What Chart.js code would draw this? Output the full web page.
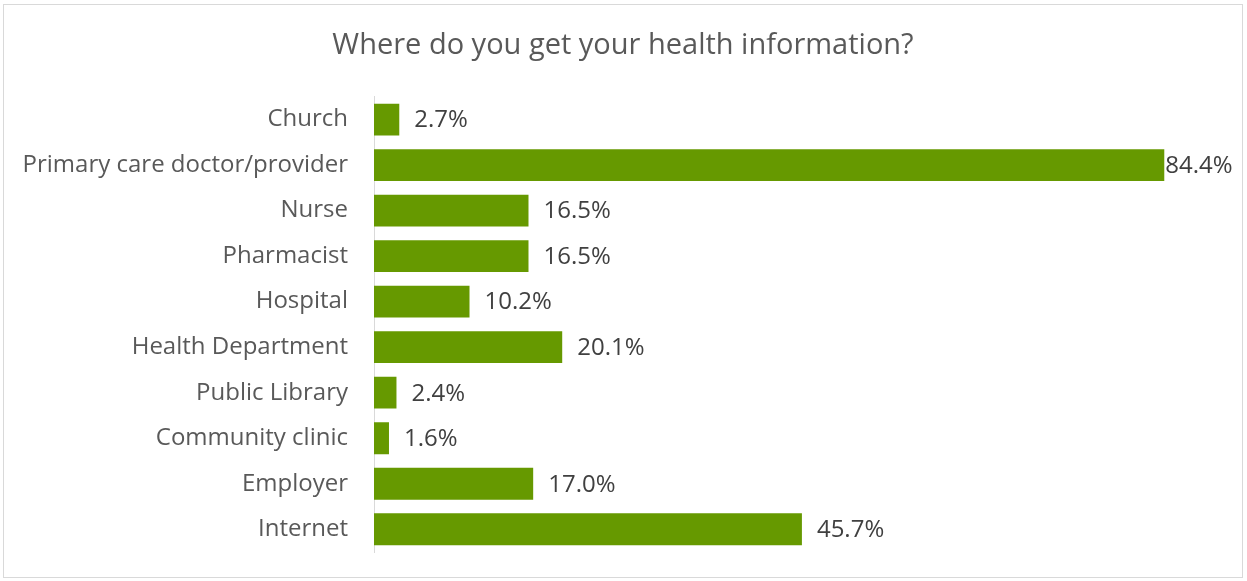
<!DOCTYPE html>
<html>
<head>
<meta charset="utf-8">
<script src="https://cdn.jsdelivr.net/npm/chart.js@4.4.0/dist/chart.umd.min.js"></script>
<style>
  html, body { margin: 0; padding: 0; background: #ffffff; }
  #wrap {
    position: absolute; left: 3px; top: 4px;
    width: 1238px; height: 572px;
    border: 1px solid #d9d9d9;
  }
</style>
</head>
<body>
<div id="wrap"><canvas id="healthChart" width="1238" height="572"></canvas></div>
<script>
"use strict";

/* survey answers, top to bottom */
var sources = ["Church", "Primary care doctor/provider", "Nurse", "Pharmacist", "Hospital",
               "Health Department", "Public Library", "Community clinic", "Employer", "Internet"];
var percents = [2.7, 84.4, 16.5, 16.5, 10.2, 20.1, 2.4, 1.6, 17.0, 45.7];

var fontFamily = "'Open Sans', 'Noto Sans', sans-serif";

/* value labels at the end of each bar, pulled back in if they would run off the edge */
var barValueLabels = {
    id: "barValueLabels",
    afterDatasetsDraw: function (chart) {
        var ctx = chart.ctx;
        var meta = chart.getDatasetMeta(0);
        ctx.save();
        ctx.font = "24px " + fontFamily;
        ctx.fillStyle = "#404040";
        ctx.textBaseline = "middle";
        ctx.textAlign = "left";
        meta.data.forEach(function (bar, i) {
            var txt = percents[i].toFixed(1) + "%";
            var w = ctx.measureText(txt).width;
            var x = bar.x + 15;
            if (x + w > chart.width - 4) {
                x = bar.x + 1;
            }
            ctx.fillText(txt, x, bar.y + 1);
        });
        ctx.restore();
    }
};

var ctx = document.getElementById("healthChart");
var chart = new Chart(ctx, {
    type: "bar",
    data: {
        labels: sources,
        datasets: [{
            data: percents,
            backgroundColor: "#669900",
            borderWidth: 0,
            categoryPercentage: 0.7,
            barPercentage: 1.0
        }]
    },
    options: {
        indexAxis: "y",
        responsive: false,
        animation: false,
        layout: { padding: { left: 0, right: 0, top: 0, bottom: 25 } },
        plugins: {
            legend: { display: false },
            tooltip: { enabled: false },
            title: {
                display: true,
                text: "Where do you get your health information?",
                color: "#595959",
                font: { family: fontFamily, size: 29, weight: "normal" },
                padding: { top: 23, bottom: 34 }
            }
        },
        scales: {
            x: {
                display: false,
                min: 0,
                max: 92.7
            },
            y: {
                grid: { display: false, drawTicks: false },
                border: { display: true, color: "#d9d9d9", width: 1 },
                ticks: {
                    color: "#595959",
                    padding: 26,
                    font: { family: fontFamily, size: 24 }
                },
                afterFit: function (scale) {
                    // fixed gutter for the category names, no extra room above/below
                    scale.width = 370;
                    scale.paddingTop = 0;
                    scale.paddingBottom = 0;
                }
            }
        }
    },
    plugins: [barValueLabels]
});
</script>
</body>
</html>
